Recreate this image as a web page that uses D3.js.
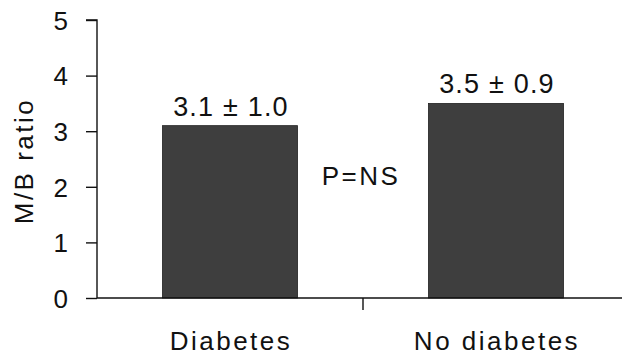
<!DOCTYPE html>
<html>
<head>
<meta charset="utf-8">
<script src="https://cdn.jsdelivr.net/npm/d3@7"></script>
<style>
    body { margin: 0; background: #fff; }
    svg text { font-family: Arial, "Liberation Sans", sans-serif; fill: #111; }
</style>
</head>
<body>
<svg id="chart" width="622" height="357"></svg>
<script>
const categories = ["Diabetes", "No diabetes"];
const means = [3.1, 3.5];
const valueLabels = ["3.1 \u00b1 1.0", "3.5 \u00b1 0.9"];
const yTicks = [0, 1, 2, 3, 4, 5];
const pLabel = "P=NS";

const paper = d3.select("#chart");

const x = d3.scaleBand()
    .domain(categories)
    .range([97, 629])
    .paddingInner(0.492)
    .paddingOuter(0.246);

const y = d3.scaleLinear()
    .domain([0, 5])
    .range([298, 20]);

//  bars
paper.selectAll(".bar")
    .data(categories)
    .join("rect")
    .attr("class", "bar")
    .attr("x", c => x(c))
    .attr("y", (c, i) => y(means[i]))
    .attr("width", x.bandwidth())
    .attr("height", (c, i) => y(0) - y(means[i]))
    .attr("fill", "#3e3e3e")
    .attr("stroke", "#222")
    .attr("stroke-width", 0.8);

//  y axis
const yAxis = paper.append("g")
    .attr("transform", "translate(97,0)")
    .call(d3.axisLeft(y).tickValues(yTicks).tickSize(11).tickPadding(18).tickFormat(d3.format("d")));
yAxis.selectAll("path, line").attr("stroke", "#111").attr("stroke-width", 1.4);
yAxis.select(".domain").attr("d", `M-11,${y(5)}H0V${y(0)}`);
yAxis.selectAll("text")
    .style("font-size", "26px")
    .attr("dy", "0.36em");

//  x axis line + divider tick between groups
const divider = (x(categories[0]) + x.bandwidth() + x(categories[1])) / 2;
paper.append("line")
    .attr("x1", 97).attr("x2", 622)
    .attr("y1", y(0)).attr("y2", y(0))
    .attr("stroke", "#111").attr("stroke-width", 1.4);
paper.append("line")
    .attr("x1", divider).attr("x2", divider)
    .attr("y1", y(0)).attr("y2", y(0) + 12)
    .attr("stroke", "#111").attr("stroke-width", 1.4);

//  category labels
paper.selectAll(".catLabel")
    .data(categories)
    .join("text")
    .attr("class", "catLabel")
    .attr("x", c => x(c) + x.bandwidth() / 2 + 1)
    .attr("y", 350)
    .attr("text-anchor", "middle")
    .style("font-size", "26px")
    .style("letter-spacing", "2.5px")
    .text(c => c);

//  value labels above bars
paper.selectAll(".valLabel")
    .data(categories)
    .join("text")
    .attr("class", "valLabel")
    .attr("x", c => x(c) + x.bandwidth() / 2 + 1)
    .attr("y", (c, i) => y(means[i]) - 10)
    .attr("text-anchor", "middle")
    .style("font-size", "27px")
    .style("letter-spacing", "1.2px")
    .text((c, i) => valueLabels[i]);

//  significance label
paper.append("text")
    .attr("x", divider - 2)
    .attr("y", 185)
    .attr("text-anchor", "middle")
    .style("font-size", "26px")
    .style("letter-spacing", "2.5px")
    .text(pLabel);

//  y title
paper.append("text")
    .attr("transform", `translate(33,${(y(0) + y(5)) / 2 + 2}) rotate(-90)`)
    .attr("text-anchor", "middle")
    .style("font-size", "26px")
    .style("letter-spacing", "2.5px")
    .text("M/B ratio");
</script>
</body>
</html>
